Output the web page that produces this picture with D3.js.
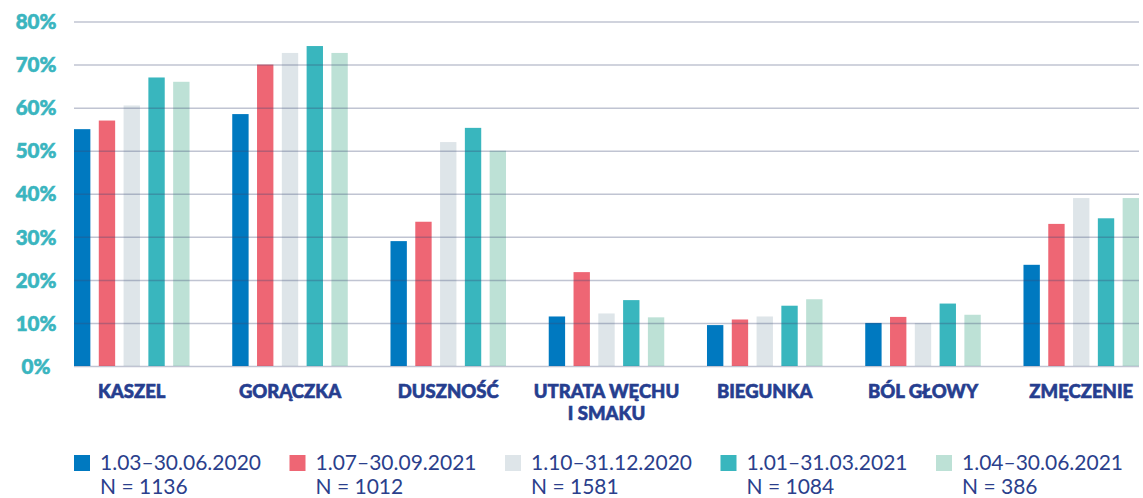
<!DOCTYPE html>
<html><head><meta charset="utf-8">
<script src="https://cdn.jsdelivr.net/npm/d3@7"></script>
<style>body{margin:0;background:#fff;overflow:hidden}</style>
</head><body>
<svg id="c" width="1143" height="498"></svg>
<script>
// ---- data ----
const categories = ["KASZEL", "GORĄCZKA", "DUSZNOŚĆ", "UTRATA WĘCHU\nI SMAKU", "BIEGUNKA", "BÓL GŁOWY", "ZMĘCZENIE"];
const seriesNames = ["1.03–30.06.2020", "1.07–30.09.2021", "1.10–31.12.2020", "1.01–31.03.2021", "1.04–30.06.2021"];
const seriesN = ["N = 1136", "N = 1012", "N = 1581", "N = 1084", "N = 386"];
const s1 = [55, 58.5, 29, 11.5, 9.5, 10, 23.5];
const s2 = [57, 70, 33.5, 21.8, 10.8, 11.4, 33];
const s3 = [60.5, 72.7, 52, 12.2, 11.5, 10, 39];
const s4 = [67, 74.3, 55.3, 15.3, 14, 14.5, 34.3];
const s5 = [66, 72.7, 50, 11.3, 15.5, 11.9, 39];
const yTicks = [0, 10, 20, 30, 40, 50, 60, 70, 80];

// ---- style ----
const colors = ["#0079c0", "#ee6674", "#dee5e9", "#39b6be", "#bde1d6"];
const series = [s1, s2, s3, s4, s5];

const svg = d3.select("#c");
const x = d3.scaleBand().domain(categories).range([74, 1139]).paddingInner(0.27).paddingOuter(0);
const xi = d3.scaleBand().domain(d3.range(series.length)).range([0, x.bandwidth()]).paddingInner(0.34);
const y = d3.scaleLinear().domain([0, 80]).range([366, 21.5]);

// bars
const groups = svg.append("g").selectAll("g").data(categories).join("g")
  .attr("transform", d => `translate(${x(d)},0)`);
groups.selectAll("rect")
  .data((d, ci) => series.map((s, si) => ({ si, v: s[ci] })))
  .join("rect")
  .attr("x", d => xi(d.si))
  .attr("width", xi.bandwidth())
  .attr("y", d => y(d.v))
  .attr("height", d => y(0) - y(d.v))
  .attr("fill", d => colors[d.si]);

// gridlines (on top, translucent)
const yAxis = d3.axisLeft(y).tickValues(yTicks).tickSize(-(1139 - 74)).tickFormat(d => d + "%");
const ga = svg.append("g").attr("transform", "translate(74,0)").call(yAxis);
ga.select(".domain").remove();
ga.selectAll(".tick line").attr("stroke", "rgba(60,70,115,0.32)").attr("stroke-width", 1.5);
ga.selectAll(".tick text")
  .attr("x", -38).attr("text-anchor", "middle").attr("dy", "0.35em")
  .attr("fill", "#3ab5bf").attr("font-family", "Lato").attr("font-weight", 900).attr("font-size", 20.5)
  .attr("stroke", "#3ab5bf").attr("stroke-width", 0.6);

// category labels
const cl = svg.append("g").selectAll("text").data(categories).join("text")
  .attr("x", d => x(d) + x.bandwidth() / 2)
  .attr("y", 398)
  .attr("text-anchor", "middle")
  .attr("fill", "#263e8f").attr("font-family", "Lato").attr("font-weight", 900).attr("font-size", 18.5)
  .attr("stroke", "#263e8f").attr("stroke-width", 0.6);
cl.selectAll("tspan").data(d => d.split("\n")).join("tspan")
  .attr("x", function () { return d3.select(this.parentNode).attr("x"); })
  .attr("dy", (d, i) => i === 0 ? 0 : 22)
  .text(d => d);

// legend
const lg = svg.append("g").selectAll("g").data(seriesNames).join("g")
  .attr("transform", (d, i) => `translate(${74 + i * 215.5},0)`);
lg.append("rect").attr("x", 0).attr("y", 455).attr("width", 16).attr("height", 16)
  .attr("fill", (d, i) => colors[i]);
lg.append("text").attr("x", 26).attr("y", 470).text(d => d)
  .attr("fill", "#2b3f8c").attr("font-family", "Lato").attr("font-size", 21);
lg.append("text").attr("x", 26).attr("y", 494).text((d, i) => seriesN[i])
  .attr("fill", "#2b3f8c").attr("font-family", "Lato").attr("font-size", 21);
</script>
</body></html>
